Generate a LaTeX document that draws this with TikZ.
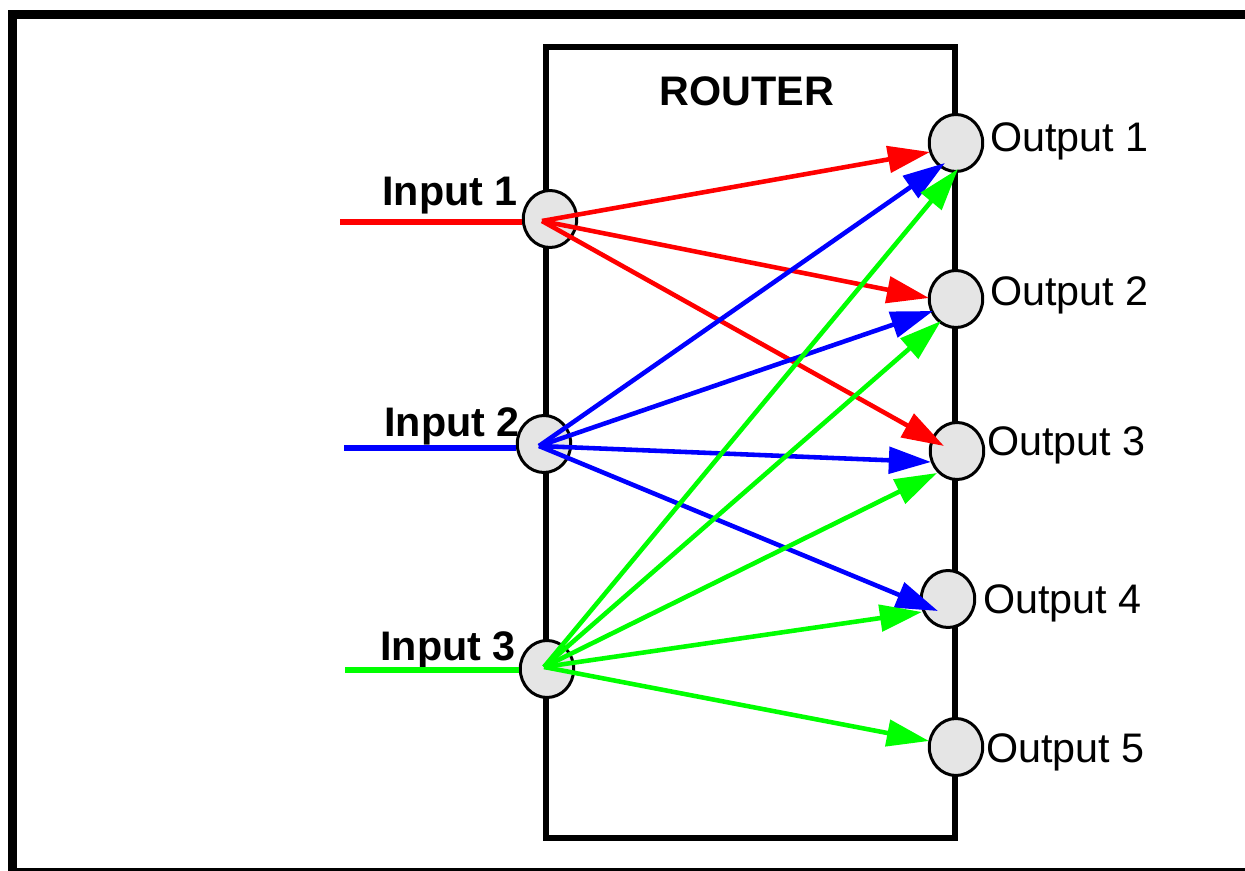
\documentclass[tikz,border=0pt]{standalone}
\usepackage{fontspec}
\setmainfont{Liberation Sans}
\usetikzlibrary{arrows.meta, shapes.geometric}

\begin{document}
\begin{tikzpicture}[x=0.02cm, y=-0.02cm,
  port/.style={ellipse, draw, line width=1.7pt, fill=black!10,
    minimum width=1.07cm, minimum height=1.14cm, inner sep=0pt},
  lbl/.style={inner sep=0pt, font=\fontsize{23.5}{28}\selectfont},
  lblb/.style={inner sep=0pt, font=\fontsize{23.5}{28}\selectfont\bfseries},
  feed/.style={line width=3.8pt},
  route/.style={line width=2.6pt, -{Triangle[length=24pt, width=15pt]}}]
\useasboundingbox (0,0) rectangle (1245,871);

% outer frame
\draw[line width=5.1pt] (12.5,871) -- (12.5,14.5) -- (1245,14.5);
\draw[line width=1.7pt] (12.5,869.5) -- (1245,869.5);

% router box
\draw[line width=3.4pt] (546,47) rectangle (955,838);
\node[lblb, anchor=base] (title) at (747,106) {ROUTER};

% ports
\node[port] (in1) at (550,219) {};
\node[port] (in2) at (544,444) {};
\node[port] (in3) at (547,669) {};
\node[port] (out1) at (956,143) {};
\node[port] (out2) at (956,299) {};
\node[port] (out3) at (957,451) {};
\node[port] (out4) at (948,599) {};
\node[port] (out5) at (956,747) {};

% labels
\node[lblb, anchor=base west] (lin1) at (382,206) {Input 1};
\node[lblb, anchor=base west] (lin2) at (384,437) {Input 2};
\node[lblb, anchor=base west] (lin3) at (380,661) {Input 3};
\node[lbl, anchor=base west] (lout1) at (990,152) {Output 1};
\node[lbl, anchor=base west] (lout2) at (990,306) {Output 2};
\node[lbl, anchor=base west] (lout3) at (987,456) {Output 3};
\node[lbl, anchor=base west] (lout4) at (983,614) {Output 4};
\node[lbl, anchor=base west] (lout5) at (986,762) {Output 5};

% incoming lines
\coordinate (src1) at (340,222);
\coordinate (src2) at (344,448);
\coordinate (src3) at (345,670);
\draw[feed, red] (src1) -- (src1 -| in1.west);
\draw[feed, blue] (src2) -- (src2 -| in2.west);
\draw[feed, green] (src3) -- (src3 -| in3.west);

% routes
\foreach \t/\dx/\dy in {out1/-26/9, out2/-27/-1, out3/-13/-5}
  \draw[route, red] ([shift={(-8,2)}]in1.center) -- ([shift={(\dx,\dy)}]\t.center);
\foreach \t/\dx/\dy in {out1/-11/20, out2/-23/12, out3/-26/11, out4/-10/12}
  \draw[route, blue] ([shift={(-5,2)}]in2.center) -- ([shift={(\dx,\dy)}]\t.center);
\foreach \t/\dx/\dy in {out1/2/26, out2/-15/22, out3/-20/22, out4/-26/13, out5/-27/-6}
  \draw[route, green] ([shift={(-3,-2)}]in3.center) -- ([shift={(\dx,\dy)}]\t.center);
\end{tikzpicture}
\end{document}
